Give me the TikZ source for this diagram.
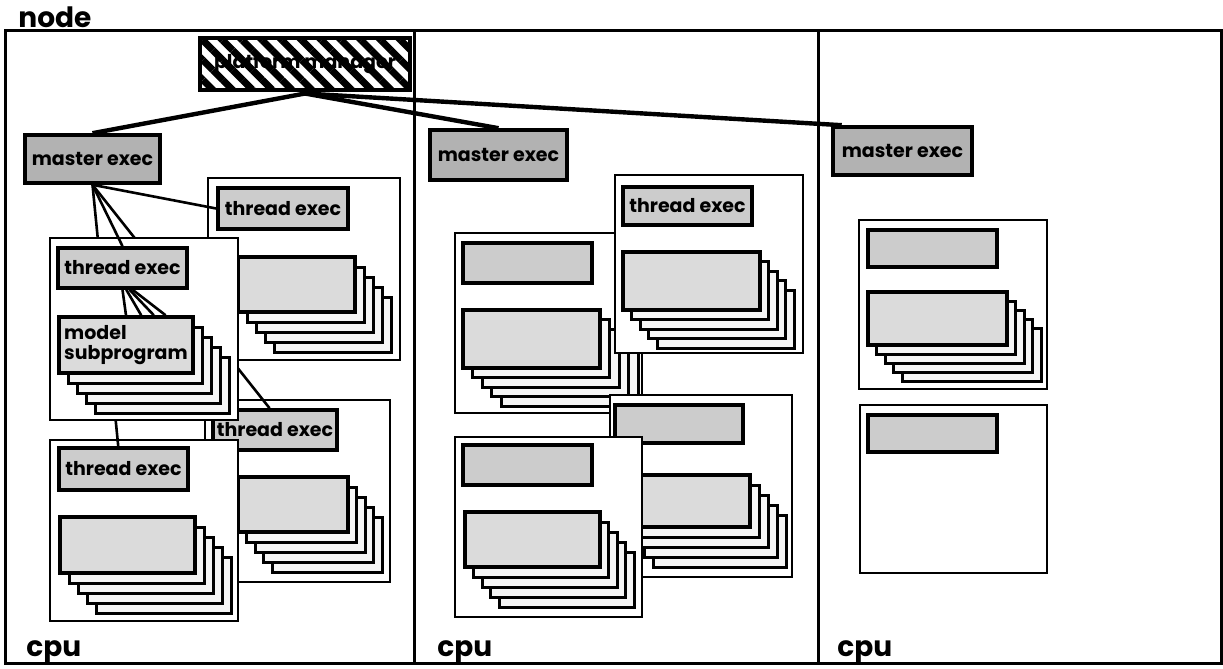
\documentclass[tikz,border=0pt]{standalone}
\usepackage{fontspec}
\setmainfont{Poppins}
\usetikzlibrary{patterns.meta}

\begin{document}
\begin{tikzpicture}[x=0.5pt, y=-0.5pt,
  frameline/.style={line width=1.5pt},
  groupbox/.style={draw, fill=white, line width=1.3pt},
  backcard/.style={draw, fill=gray!8, line width=1.5pt},
  frontcard/.style={draw, fill=gray!28, line width=1.7pt},
  labelbox/.style={draw, fill=gray!40, line width=1.8pt, inner sep=0pt, font=\bfseries\fontsize{9.5}{10}\selectfont},
  masterbox/.style={labelbox, fill=gray!60},
  managerbox/.style={draw, line width=1.8pt, inner sep=0pt, pattern={Lines[angle=-45,distance=7pt,line width=3.5pt]}, font=\bfseries\fontsize{9.5}{10}\selectfont},
  wire/.style={line width=1.3pt},
  bigwire/.style={line width=2.2pt},
  cpulabel/.style={font=\bfseries\fontsize{14}{14}\selectfont, inner sep=0pt, anchor=base west}]
  \useasboundingbox (0,0) rectangle (1223,669);
  % draw node frame and cpu columns
  \draw[frameline] (5,30) rectangle (1221,663);
  \draw[frameline] (414,30) -- (414,663);
  \draw[frameline] (818,30) -- (818,663);
  \node[cpulabel] (node_label) at (18,27) {node};
  \node[cpulabel] (cpu1_label) at (26,656) {cpu};
  \node[cpulabel] (cpu2_label) at (437,656) {cpu};
  \node[cpulabel] (cpu3_label) at (837,656) {cpu};
  % draw platform manager and master execs
  \node[managerbox, minimum width=105pt, minimum height=26pt] (platform_mgr) at (305,64) {platform manager};
  \node[masterbox, minimum width=67.5pt, minimum height=24pt] (master_cpu1) at (92.5,159) {master exec};
  \node[masterbox, minimum width=68.5pt, minimum height=25pt] (master_cpu2) at (498.5,155) {master exec};
  \node[masterbox, minimum width=69.5pt, minimum height=24pt] (master_cpu3) at (902.5,151) {master exec};
  \draw[bigwire] (platform_mgr.south) -- (master_cpu1.north);
  \draw[bigwire] (platform_mgr.south) -- (master_cpu2.north);
  \draw[bigwire] (platform_mgr.south) -- (master_cpu3.157);
  % cpu1: thread group a
  \draw[groupbox] (208,178) rectangle (400,360);
  \node[labelbox, minimum width=65pt, minimum height=20.5pt] (thread_a) at (283,208.5) {thread exec};
  \draw[backcard] (274,297) rectangle (391,352);
  \draw[backcard] (265,287) rectangle (382,342);
  \draw[backcard] (256,277) rectangle (373,332);
  \draw[backcard] (247,267) rectangle (364,322);
  \draw[frontcard] (238,257) rectangle (355,312);
  % cpu1: thread group c
  \draw[groupbox] (205,400) rectangle (390,582);
  \node[labelbox, minimum width=62pt, minimum height=20pt] (thread_c) at (275,430) {thread exec};
  \draw[backcard] (272,517) rectangle (382,572);
  \draw[backcard] (263.5,507) rectangle (373.5,562);
  \draw[backcard] (255,497) rectangle (365,552);
  \draw[backcard] (246.5,487) rectangle (356.5,542);
  \draw[frontcard] (238,477) rectangle (348,532);
  % cpu1: thread group d
  \draw[groupbox] (50,440) rectangle (238,621);
  \node[labelbox, minimum width=64.5pt, minimum height=21pt] (thread_d) at (123.5,469) {thread exec};
  \draw[backcard] (96,557) rectangle (231,613);
  \draw[backcard] (87,547) rectangle (222,603);
  \draw[backcard] (78,537) rectangle (213,593);
  \draw[backcard] (69,527) rectangle (204,583);
  \draw[frontcard] (60,517) rectangle (195,573);
  \draw[wire] (master_cpu1.south) -- (thread_c.104);
  \draw[wire] (master_cpu1.south) -- (thread_d.103);
  % cpu1: thread group b
  \draw[groupbox] (50,238) rectangle (238,420);
  \node[labelbox, minimum width=64.5pt, minimum height=20pt] (thread_b) at (122.5,268) {thread exec};
  \draw[backcard] (95,357) rectangle (229,413);
  \draw[backcard] (86,347) rectangle (220,403);
  \draw[backcard] (77,337) rectangle (211,393);
  \draw[backcard] (68,327) rectangle (202,383);
  \node[labelbox, fill=gray!28, minimum width=67pt, minimum height=28pt, align=left] (model_sub) at (126,345) {model\\subprogram};
  \draw[wire] (master_cpu1.south) -- (thread_b.north);
  \draw[wire] (master_cpu1.south) -- (thread_a.west);
  \draw[wire] (thread_b.south) -- (model_sub.90);
  \draw[wire] (thread_b.-80) -- (model_sub.63);
  \draw[wire] (thread_b.-72) -- (model_sub.47);
  \draw[wire] (thread_b.-65) -- (model_sub.37);
  % cpu2: thread group e
  \draw[groupbox] (455,233) rectangle (642,413);
  \node[labelbox, minimum width=64.5pt, minimum height=20pt] (label_e) at (527.5,263) {};
  \draw[backcard] (501,348) rectangle (638,406);
  \draw[backcard] (491.5,338.5) rectangle (628.5,396.5);
  \draw[backcard] (482,329) rectangle (619,387);
  \draw[backcard] (472.5,319.5) rectangle (609.5,377.5);
  \draw[frontcard] (463,310) rectangle (600,368);
  % cpu2: thread group f
  \draw[groupbox] (615,175) rectangle (803,353);
  \node[labelbox, minimum width=64.5pt, minimum height=19pt] (thread_f) at (687.5,206) {thread exec};
  \draw[backcard] (657,290) rectangle (794,348);
  \draw[backcard] (648.5,280.5) rectangle (785.5,338.5);
  \draw[backcard] (640,271) rectangle (777,329);
  \draw[backcard] (631.5,261.5) rectangle (768.5,319.5);
  \draw[frontcard] (623,252) rectangle (760,310);
  % cpu2: thread group h
  \draw[groupbox] (610,395) rectangle (792,577);
  \node[labelbox, minimum width=64pt, minimum height=19pt] (label_h) at (679,424) {};
  \draw[backcard] (653,515) rectangle (786,567);
  \draw[backcard] (644,505) rectangle (777,557);
  \draw[backcard] (635,495) rectangle (768,547);
  \draw[backcard] (626,485) rectangle (759,537);
  \draw[frontcard] (617,475) rectangle (750,527);
  % cpu2: thread group g
  \draw[groupbox] (455,437) rectangle (642,617);
  \node[labelbox, minimum width=64.5pt, minimum height=20pt] (label_g) at (527.5,465) {};
  \draw[backcard] (499,552) rectangle (634,607);
  \draw[backcard] (490.5,542) rectangle (625.5,597);
  \draw[backcard] (482,532) rectangle (617,587);
  \draw[backcard] (473.5,522) rectangle (608.5,577);
  \draw[frontcard] (465,512) rectangle (600,567);
  % cpu3: thread groups i and j
  \draw[groupbox] (859,220) rectangle (1047,389);
  \node[labelbox, minimum width=64.5pt, minimum height=18.5pt] (label_i) at (932.5,248.5) {};
  \draw[backcard] (902,328) rectangle (1041,381);
  \draw[backcard] (893.5,319) rectangle (1032.5,372);
  \draw[backcard] (885,310) rectangle (1024,363);
  \draw[backcard] (876.5,301) rectangle (1015.5,354);
  \draw[frontcard] (868,292) rectangle (1007,345);
  \draw[groupbox] (860,405) rectangle (1047,573);
  \node[labelbox, minimum width=64.5pt, minimum height=18.5pt] (label_j) at (932.5,433.5) {};
\end{tikzpicture}
\end{document}
